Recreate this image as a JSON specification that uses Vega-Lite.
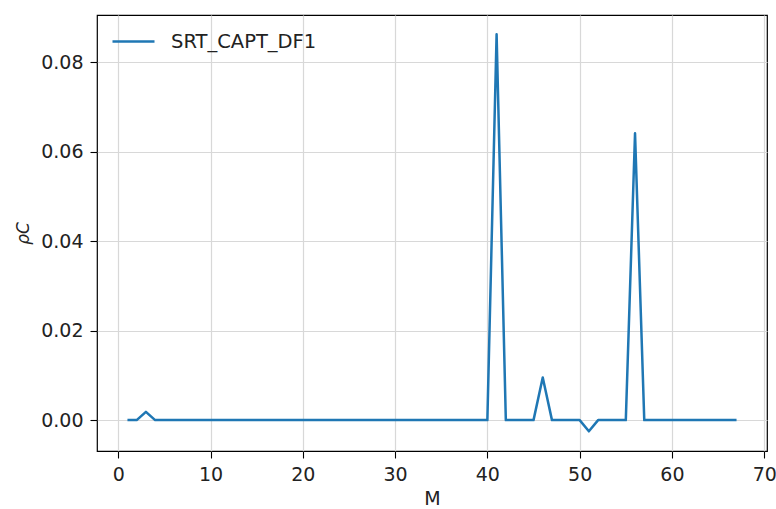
{
  "$schema": "https://vega.github.io/schema/vega-lite/v6.json",
  "width": 670,
  "height": 436,
  "autosize": {"type": "none"},
  "padding": {"left": 97, "top": 15, "right": 9, "bottom": 58},
  "background": "white",
  "config": {
    "font": "DejaVu Sans",
    "view": {"stroke": "black", "strokeWidth": 1.2},
    "axis": {
      "labelFont": "DejaVu Sans",
      "titleFont": "DejaVu Sans",
      "labelFontSize": 19,
      "titleFontSize": 19,
      "labelColor": "#222",
      "titleColor": "#222",
      "titleFontWeight": "normal",
      "tickColor": "black",
      "tickSize": 7,
      "tickWidth": 1.1,
      "domain": false,
      "gridColor": "#d8d8d8",
      "gridWidth": 1.2,
      "labelPadding": 7
    }
  },
  "data": {
    "values": [
      {"M": 1, "rho": 0, "series": "SRT_CAPT_DF1"},
      {"M": 2, "rho": 0, "series": "SRT_CAPT_DF1"},
      {"M": 3, "rho": 0.00185, "series": "SRT_CAPT_DF1"},
      {"M": 4, "rho": 0, "series": "SRT_CAPT_DF1"},
      {"M": 5, "rho": 0, "series": "SRT_CAPT_DF1"},
      {"M": 6, "rho": 0, "series": "SRT_CAPT_DF1"},
      {"M": 7, "rho": 0, "series": "SRT_CAPT_DF1"},
      {"M": 8, "rho": 0, "series": "SRT_CAPT_DF1"},
      {"M": 9, "rho": 0, "series": "SRT_CAPT_DF1"},
      {"M": 10, "rho": 0, "series": "SRT_CAPT_DF1"},
      {"M": 11, "rho": 0, "series": "SRT_CAPT_DF1"},
      {"M": 12, "rho": 0, "series": "SRT_CAPT_DF1"},
      {"M": 13, "rho": 0, "series": "SRT_CAPT_DF1"},
      {"M": 14, "rho": 0, "series": "SRT_CAPT_DF1"},
      {"M": 15, "rho": 0, "series": "SRT_CAPT_DF1"},
      {"M": 16, "rho": 0, "series": "SRT_CAPT_DF1"},
      {"M": 17, "rho": 0, "series": "SRT_CAPT_DF1"},
      {"M": 18, "rho": 0, "series": "SRT_CAPT_DF1"},
      {"M": 19, "rho": 0, "series": "SRT_CAPT_DF1"},
      {"M": 20, "rho": 0, "series": "SRT_CAPT_DF1"},
      {"M": 21, "rho": 0, "series": "SRT_CAPT_DF1"},
      {"M": 22, "rho": 0, "series": "SRT_CAPT_DF1"},
      {"M": 23, "rho": 0, "series": "SRT_CAPT_DF1"},
      {"M": 24, "rho": 0, "series": "SRT_CAPT_DF1"},
      {"M": 25, "rho": 0, "series": "SRT_CAPT_DF1"},
      {"M": 26, "rho": 0, "series": "SRT_CAPT_DF1"},
      {"M": 27, "rho": 0, "series": "SRT_CAPT_DF1"},
      {"M": 28, "rho": 0, "series": "SRT_CAPT_DF1"},
      {"M": 29, "rho": 0, "series": "SRT_CAPT_DF1"},
      {"M": 30, "rho": 0, "series": "SRT_CAPT_DF1"},
      {"M": 31, "rho": 0, "series": "SRT_CAPT_DF1"},
      {"M": 32, "rho": 0, "series": "SRT_CAPT_DF1"},
      {"M": 33, "rho": 0, "series": "SRT_CAPT_DF1"},
      {"M": 34, "rho": 0, "series": "SRT_CAPT_DF1"},
      {"M": 35, "rho": 0, "series": "SRT_CAPT_DF1"},
      {"M": 36, "rho": 0, "series": "SRT_CAPT_DF1"},
      {"M": 37, "rho": 0, "series": "SRT_CAPT_DF1"},
      {"M": 38, "rho": 0, "series": "SRT_CAPT_DF1"},
      {"M": 39, "rho": 0, "series": "SRT_CAPT_DF1"},
      {"M": 40, "rho": 0, "series": "SRT_CAPT_DF1"},
      {"M": 41, "rho": 0.0862, "series": "SRT_CAPT_DF1"},
      {"M": 42, "rho": 0, "series": "SRT_CAPT_DF1"},
      {"M": 43, "rho": 0, "series": "SRT_CAPT_DF1"},
      {"M": 44, "rho": 0, "series": "SRT_CAPT_DF1"},
      {"M": 45, "rho": 0, "series": "SRT_CAPT_DF1"},
      {"M": 46, "rho": 0.0095, "series": "SRT_CAPT_DF1"},
      {"M": 47, "rho": 0, "series": "SRT_CAPT_DF1"},
      {"M": 48, "rho": 0, "series": "SRT_CAPT_DF1"},
      {"M": 49, "rho": 0, "series": "SRT_CAPT_DF1"},
      {"M": 50, "rho": 0, "series": "SRT_CAPT_DF1"},
      {"M": 51, "rho": -0.0025, "series": "SRT_CAPT_DF1"},
      {"M": 52, "rho": 0, "series": "SRT_CAPT_DF1"},
      {"M": 53, "rho": 0, "series": "SRT_CAPT_DF1"},
      {"M": 54, "rho": 0, "series": "SRT_CAPT_DF1"},
      {"M": 55, "rho": 0, "series": "SRT_CAPT_DF1"},
      {"M": 56, "rho": 0.0641, "series": "SRT_CAPT_DF1"},
      {"M": 57, "rho": 0, "series": "SRT_CAPT_DF1"},
      {"M": 58, "rho": 0, "series": "SRT_CAPT_DF1"},
      {"M": 59, "rho": 0, "series": "SRT_CAPT_DF1"},
      {"M": 60, "rho": 0, "series": "SRT_CAPT_DF1"},
      {"M": 61, "rho": 0, "series": "SRT_CAPT_DF1"},
      {"M": 62, "rho": 0, "series": "SRT_CAPT_DF1"},
      {"M": 63, "rho": 0, "series": "SRT_CAPT_DF1"},
      {"M": 64, "rho": 0, "series": "SRT_CAPT_DF1"},
      {"M": 65, "rho": 0, "series": "SRT_CAPT_DF1"},
      {"M": 66, "rho": 0, "series": "SRT_CAPT_DF1"},
      {"M": 67, "rho": 0, "series": "SRT_CAPT_DF1"}
    ]
  },
  "mark": {"type": "line", "strokeWidth": 2.5, "strokeJoin": "round", "clip": true},
  "encoding": {
    "x": {
      "field": "M",
      "type": "quantitative",
      "scale": {"domain": [-2.3, 70.3], "nice": false, "zero": false},
      "axis": {"values": [0, 10, 20, 30, 40, 50, 60, 70], "title": "M", "titlePadding": 5}
    },
    "y": {
      "field": "rho",
      "type": "quantitative",
      "scale": {"domain": [-0.0069, 0.0905], "nice": false, "zero": false},
      "axis": {"values": [0, 0.02, 0.04, 0.06, 0.08], "format": ".2f", "title": "ρC", "titleFontStyle": "italic", "titleFontSize": 17, "titlePadding": 8}
    },
    "color": {
      "field": "series",
      "type": "nominal",
      "scale": {"range": ["#1f77b4"]},
      "legend": {
        "title": null,
        "orient": "none",
        "legendX": 14,
        "legendY": 4,
        "symbolType": "stroke",
        "symbolStrokeWidth": 2.5,
        "symbolSize": 1764,
        "labelFontSize": 19.5,
        "labelFont": "DejaVu Sans",
        "labelColor": "#222",
        "labelOffset": 15
      }
    }
  }
}
